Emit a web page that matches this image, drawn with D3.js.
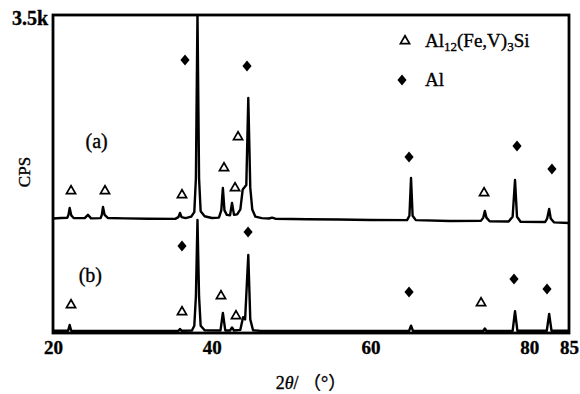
<!DOCTYPE html>
<html>
<head>
<meta charset="utf-8">
<script src="https://cdn.jsdelivr.net/npm/d3@7/dist/d3.min.js"></script>
<style>
  body { margin: 0; background: #fff; }
  text { font-family: "Liberation Serif", "Times New Roman", serif; fill: #000; stroke: #000; stroke-width: 0.35px; }
</style>
</head>
<body>
<svg id="xrd"></svg>
<script>
// x ticks (2theta, degrees)
let xTicks = [20, 40, 60, 80, 85];
let yMax = 3500;

// pattern (a): [2theta, counts above its own baseline], drawn shifted up by offsetA
let offsetA = 1200;
let patternA = [
  [20, 60], [21, 66], [21.8, 68], [21.95, 100], [22.1, 176], [22.3, 95], [22.6, 66],
  [24.0, 64], [24.4, 100], [24.8, 62], [26.0, 64], [26.15, 100], [26.3, 187], [26.5, 100],
  [26.9, 66], [29, 62], [32, 58], [35.4, 56], [35.8, 75], [36.0, 121], [36.2, 75],
  [36.7, 64], [37.4, 80], [37.8, 130], [38.0, 500], [38.2, 2320], [38.4, 500],
  [38.6, 140], [39.1, 85], [40.0, 66], [40.9, 70], [41.2, 150], [41.4, 396], [41.6, 150],
  [41.9, 100], [42.3, 95], [42.55, 231], [42.8, 100], [43.2, 105], [43.6, 160],
  [43.9, 380], [44.15, 407], [44.35, 430], [44.6, 1387], [44.85, 400], [45.1, 160],
  [45.5, 80], [46.3, 64], [47.2, 60], [47.6, 70], [48.0, 58], [52, 52], [56, 50],
  [60, 44], [64.6, 42], [64.9, 90], [65.1, 506], [65.3, 90], [65.7, 42], [70, 33],
  [73.9, 34], [74.2, 70], [74.4, 143], [74.6, 70], [75.0, 30], [77.4, 28], [77.9, 80],
  [78.2, 484], [78.45, 80], [78.9, 24], [82.0, 22], [82.25, 60], [82.5, 165],
  [82.7, 60], [83.1, 18], [85, 11]
];

// pattern (b): [2theta, counts]
let patternB = [
  [20, 25], [21.9, 25], [22.1, 88], [22.3, 25], [30, 22], [35.8, 24], [36.0, 45],
  [36.2, 24], [37.5, 28], [37.8, 80], [38.0, 400], [38.2, 1243], [38.4, 400],
  [38.6, 80], [39.1, 30], [41.1, 28], [41.4, 220], [41.7, 28], [42.3, 28], [42.55, 60],
  [42.8, 28], [43.6, 35], [43.95, 175], [44.2, 150], [44.6, 858], [44.85, 150],
  [45.2, 30], [46, 25], [60, 22], [64.85, 22], [65.1, 80], [65.35, 22], [74.2, 22],
  [74.4, 50], [74.6, 22], [77.9, 24], [78.2, 240], [78.5, 24], [82.2, 24], [82.5, 210],
  [82.8, 24], [85, 24]
];

// phase markers [2theta, counts] (absolute chart counts)
let alMarks = [
  [36.63, 3005], [44.44, 2939], [64.85, 1937], [78.45, 2058], [82.85, 1805],
  [36.25, 958], [44.57, 1112], [64.85, 451], [78.07, 594], [82.23, 484]
];
let silicideMarks = [
  [22.27, 1563], [26.55, 1563], [36.25, 1519], [41.54, 1816], [42.93, 1596],
  [43.31, 2157], [74.30, 1541],
  [22.27, 308], [36.25, 231], [41.16, 407], [43.05, 187], [73.92, 330]
];

// curve labels [text, 2theta, counts]
let curveLabels = [["(a)", 25.5, 2040], ["(b)", 24.7, 560]];

let width = 580, height = 394;
let margin = {top: 15, right: 11, bottom: 61, left: 53};

let svg = d3.select("#xrd").attr("width", width).attr("height", height);

let x = d3.scaleLinear().domain([20, 85]).range([margin.left, width - margin.right]);
let y = d3.scaleLinear().domain([0, yMax]).range([height - margin.bottom, margin.top]);

svg.append("clipPath").attr("id", "clip")
  .append("rect")
  .attr("x", margin.left).attr("y", margin.top)
  .attr("width", x(85) - x(20)).attr("height", y(0) - y(yMax));

let line = d3.line().x(d => x(d[0])).y(d => y(d[1]));

let plot = svg.append("g").attr("clip-path", "url(#clip)");

plot.append("path")
  .attr("d", line(patternA.map(d => [d[0], d[1] + offsetA])))
  .attr("fill", "none").attr("stroke", "#000")
  .attr("stroke-width", 2.4).attr("stroke-linejoin", "round");

plot.append("path")
  .attr("d", line(patternB))
  .attr("fill", "none").attr("stroke", "#000")
  .attr("stroke-width", 2.4).attr("stroke-linejoin", "round");

// frame
svg.append("rect")
  .attr("x", margin.left).attr("y", margin.top)
  .attr("width", x(85) - x(20)).attr("height", y(0) - y(yMax))
  .attr("fill", "none").attr("stroke", "#000").attr("stroke-width", 2.8);

// markers
let tri = d3.symbol(d3.symbolTriangle, 36);
let dia = d3.symbol(d3.symbolSquare, 42);

svg.append("g").selectAll("path").data(silicideMarks).enter().append("path")
  .attr("d", tri)
  .attr("transform", d => `translate(${x(d[0])},${y(d[1])})`)
  .attr("fill", "#fff").attr("stroke", "#000").attr("stroke-width", 1.7);

svg.append("g").selectAll("path").data(alMarks).enter().append("path")
  .attr("d", dia)
  .attr("transform", d => `translate(${x(d[0])},${y(d[1])}) scale(1,1.2) rotate(45)`)
  .attr("fill", "#000");

// axes
let xAxis = svg.append("g")
  .attr("transform", `translate(0,${y(0)})`)
  .call(d3.axisBottom(x).tickValues(xTicks).tickSize(0).tickPadding(8));
xAxis.select(".domain").remove();
xAxis.selectAll("text")
  .style("font-family", "'Liberation Serif', serif")
  .style("font-size", "19px").style("font-weight", "bold");

let yAxis = svg.append("g")
  .attr("transform", `translate(${margin.left},0)`)
  .call(d3.axisLeft(y).tickValues([yMax]).tickFormat(() => "3.5k").tickSize(0).tickPadding(5));
yAxis.select(".domain").remove();
yAxis.selectAll("text")
  .attr("dy", "0.45em")
  .style("font-family", "'Liberation Serif', serif")
  .style("font-size", "20px").style("font-weight", "bold");

// axis titles
let xTitle = svg.append("text")
  .attr("x", 311).attr("y", 389)
  .attr("text-anchor", "middle")
  .style("font-size", "18px");
xTitle.append("tspan").text("2");
xTitle.append("tspan").text("θ").style("font-style", "italic");
xTitle.append("tspan").text("/ （°）").style("font-family", "'Liberation Serif', 'Noto Sans CJK SC', serif");

svg.append("text")
  .attr("transform", "translate(30,172) rotate(-90)")
  .attr("text-anchor", "middle")
  .style("font-size", "17px")
  .text("CPS");

// curve labels
svg.append("g").selectAll("text").data(curveLabels).enter().append("text")
  .attr("x", d => x(d[1])).attr("y", d => y(d[2]))
  .attr("text-anchor", "middle")
  .style("font-size", "20px")
  .text(d => d[0]);

// legend
let legend = svg.append("g");
legend.append("path").attr("d", tri)
  .attr("transform", "translate(405,41)")
  .attr("fill", "#fff").attr("stroke", "#000").attr("stroke-width", 1.7);
legend.append("path").attr("d", dia)
  .attr("transform", "translate(402,80) scale(1,1.2) rotate(45)")
  .attr("fill", "#000");

let l1 = legend.append("text").attr("x", 425).attr("y", 47).style("font-size", "19px");
l1.append("tspan").text("Al");
l1.append("tspan").text("12").attr("dy", 4).style("font-size", "13px");
l1.append("tspan").text("(Fe,V)").attr("dy", -4);
l1.append("tspan").text("3").attr("dy", 4).style("font-size", "13px");
l1.append("tspan").text("Si").attr("dy", -4);

legend.append("text").attr("x", 425).attr("y", 86).style("font-size", "19px").text("Al");
</script>
</body>
</html>
